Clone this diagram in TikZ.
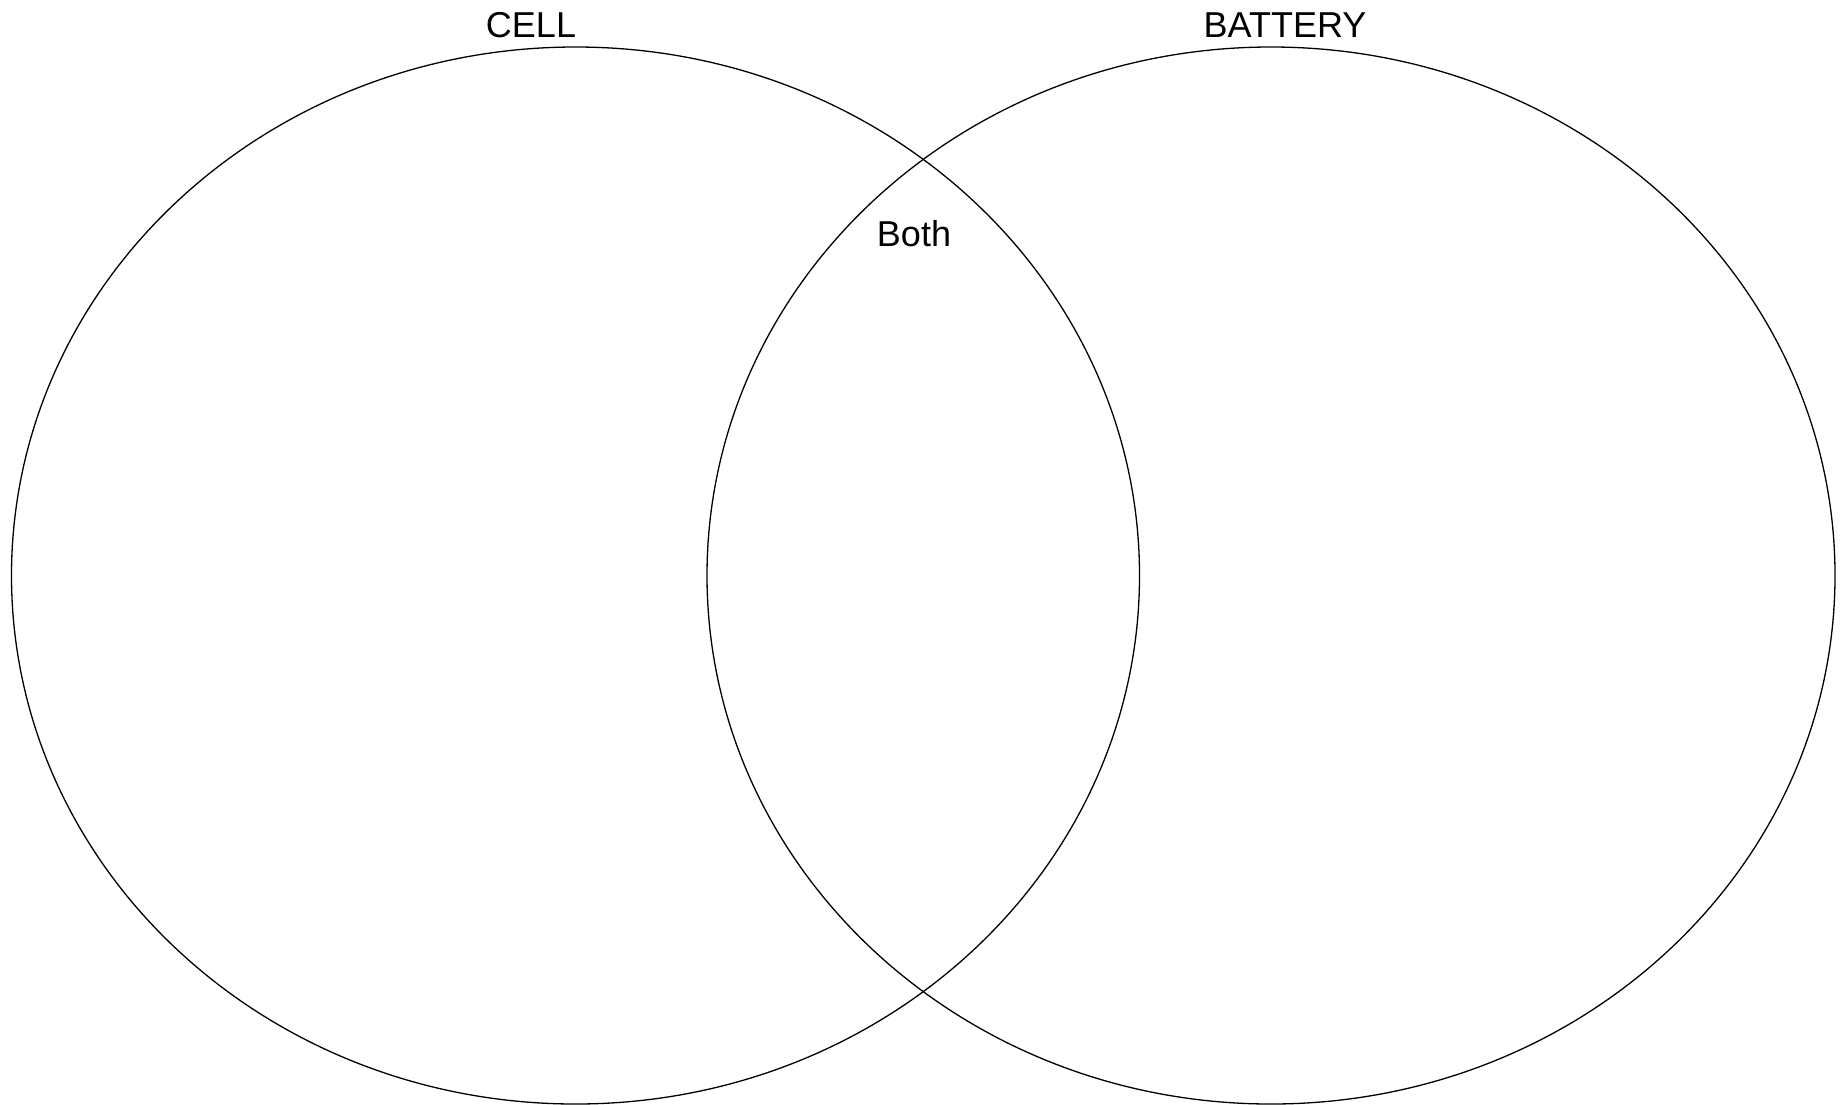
\documentclass[tikz,border=0pt]{standalone}
\usepackage{fontspec}
\setmainfont{Liberation Sans}
\usepackage{tikz}
\usetikzlibrary{positioning}
\tikzset{
  setline/.style={draw=black, line width=1.3pt},
  settitle/.style={font=\fontsize{36}{40}\selectfont, inner sep=0pt},
}
\def\cL{575.5}
\def\cR{1271}
\def\yC{-575.5}
\begin{document}
\begin{tikzpicture}[x=1pt,y=1pt]
  \useasboundingbox (0,0) rectangle (1843,-1104);
  % the two sets
  \draw[setline] (\cL,\yC) ellipse [x radius=564, y radius=528.5];
  \draw[setline] (\cR,\yC) ellipse [x radius=564, y radius=528.5];
  % titles
  \node[settitle] (cell) at (531,-25) {CELL};
  \node[settitle] (battery) at (1285,-25) {BATTERY};
  \node[settitle] (both) at (914,-234) {Both};
\end{tikzpicture}
\end{document}
